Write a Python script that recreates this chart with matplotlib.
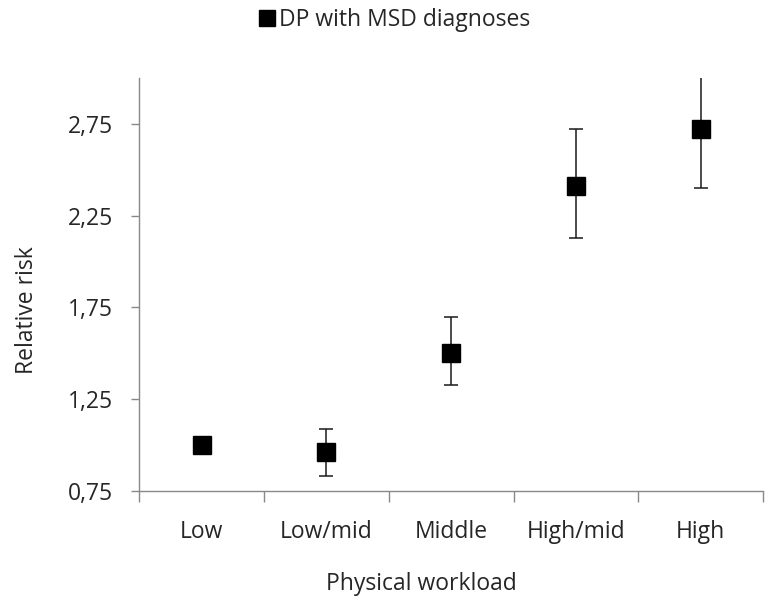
import matplotlib
matplotlib.use("Agg")
import matplotlib.pyplot as plt
from matplotlib.lines import Line2D
import numpy as np

categories = ["Low", "Low/mid", "Middle", "High/mid", "High"]
rr = [1.00, 0.96, 1.50, 2.41, 2.72]
ci_low = [1.00, 0.83, 1.33, 2.13, 2.40]
ci_high = [1.00, 1.09, 1.70, 2.72, 3.10]
yticks = [0.75, 1.25, 1.75, 2.25, 2.75]
ytick_labels = ["0,75", "1,25", "1,75", "2,25", "2,75"]
series_name = "DP with MSD diagnoses"
x_title = "Physical workload"
y_title = "Relative risk"

plt.rcParams['font.family'] = ['Open Sans', 'DejaVu Sans']
text_col = '#262626'
axis_col = '#898989'
fs = 16.5
W, H = 767, 599

fig = plt.figure(figsize=(W / 100, H / 100), dpi=100)
ax = fig.add_axes([139.3 / W, 1 - 491 / H, (763 - 139.3) / W, (491 - 78) / H])

x = np.arange(len(categories))
yerr = np.array([np.array(rr) - np.array(ci_low), np.array(ci_high) - np.array(rr)])
ax.errorbar(x, rr, yerr=yerr, fmt='none', ecolor='#1a1a1a', elinewidth=1.1,
            capsize=5.3, capthick=1.1, zorder=2)
ax.plot(x, rr, linestyle='none', marker='s', markersize=12.5, color='black', zorder=3)

ax.set_xlim(-0.5, len(categories) - 0.5)
ax.set_ylim(0.75, 3.0)
ax.set_yticks(yticks)
ax.set_yticklabels(ytick_labels)
ax.set_xticks(np.arange(len(categories) + 1) - 0.5)
ax.set_xticklabels([])
ax.set_xticks(x, minor=True)
ax.set_xticklabels(categories, minor=True)
ax.tick_params(axis='x', which='major', length=8, width=1, color=axis_col, direction='out')
ax.tick_params(axis='x', which='minor', length=0, pad=21, labelsize=fs, labelcolor=text_col)
ax.tick_params(axis='y', which='major', length=6, width=1, color=axis_col, direction='out',
               labelsize=fs, labelcolor=text_col, pad=13)

for s in ['top', 'right']:
    ax.spines[s].set_visible(False)
for s in ['left', 'bottom']:
    ax.spines[s].set_color(axis_col)
    ax.spines[s].set_linewidth(1)

fig.text(421.5 / W, 1 - 584 / H, x_title, fontsize=fs, color=text_col,
         ha='center', va='center')
fig.text(27 / W, 1 - 310 / H, y_title, fontsize=fs, color=text_col,
         ha='center', va='center', rotation=90)

handle = Line2D([], [], linestyle='none', marker='s', markersize=11, color='black')
fig.legend([handle], [series_name], loc='center', bbox_to_anchor=(395 / W, 1 - 20 / H),
           frameon=False, fontsize=fs, handlelength=0.6, handletextpad=0.25,
           labelcolor=text_col, borderpad=0)

fig.savefig("out.png", dpi=100)
